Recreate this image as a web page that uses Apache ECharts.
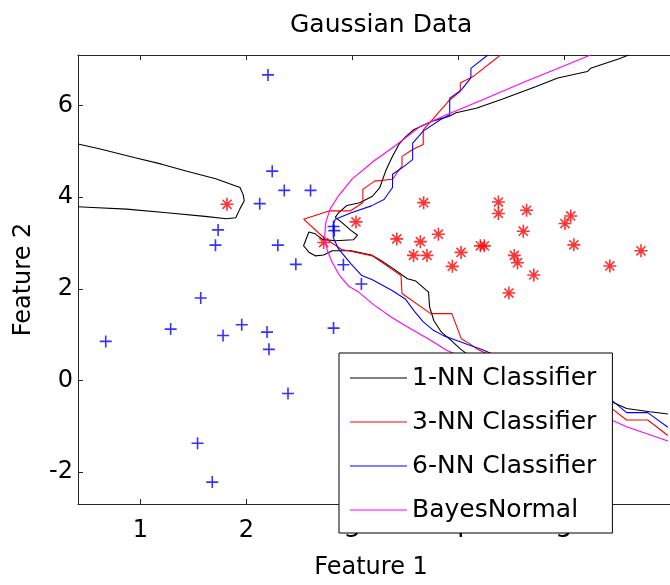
<!DOCTYPE html>
<html>
<head>
<meta charset="utf-8">
<script src="https://cdn.jsdelivr.net/npm/echarts@6/dist/echarts.min.js"></script>
<style>html,body{margin:0;padding:0;background:#fff;}#c{width:670px;height:585px;}</style>
</head>
<body>
<div id="c"></div>
<script>
// ---- data ----
var xTicks = [1, 2, 3, 4, 5];
var yTicks = [-2, 0, 2, 4, 6];
var seriesNames = ['1-NN Classifier', '3-NN Classifier', '6-NN Classifier', 'BayesNormal'];

var class1Points = [[2.204,6.667],[2.244,4.567],[2.358,4.148],[2.606,4.148],[2.126,3.859],[1.733,3.286],[1.708,2.953],[2.297,2.953],[2.467,2.534],[2.823,3.36],[2.83,3.27],[2.916,2.526],[3.086,2.106],[1.569,1.802],[0.672,0.854],[1.285,1.122],[1.780,0.984],[1.956,1.216],[2.195,1.057],[2.213,0.680],[2.823,1.144],[2.393,-0.282],[1.539,-1.368],[1.678,-2.215]];

var class2Points = [[1.817,3.844],[2.730,3.01],[3.035,3.46],[3.42,3.09],[3.643,3.03],[3.813,3.192],[3.578,2.73],[3.705,2.73],[4.027,2.795],[3.945,2.491],[4.21,2.938],[4.247,2.938],[3.674,3.88],[4.38,3.894],[4.38,3.645],[4.646,3.713],[4.615,3.258],[4.53,2.73],[4.56,2.57],[4.714,2.302],[4.479,1.908],[5.063,3.59],[5.008,3.424],[5.092,2.96],[5.432,2.5],[5.726,2.83]];

var nn1Left = [[0.41,5.16],[0.62,5.05],[0.95,4.86],[1.20,4.72],[1.43,4.57],[1.71,4.40],[1.94,4.21],[1.97,4.05],[1.98,3.92],[1.94,3.75],[1.90,3.55],[1.81,3.53],[1.61,3.58],[1.25,3.66],[0.87,3.74],[0.50,3.78],[0.41,3.79]];

var nn1Main = [[5.61,7.10],[5.52,7.02],[5.25,6.81],[5.22,6.74],[4.94,6.60],[4.73,6.41],[4.42,6.14],[4.17,5.94],[3.98,5.84],[3.91,5.76],[3.77,5.67],[3.66,5.56],[3.58,5.47],[3.50,5.31],[3.44,5.15],[3.38,4.89],[3.32,4.60],[3.26,4.21],[3.19,4.02],[3.07,3.88],[2.95,3.82],[2.87,3.66],[2.84,3.56],[2.90,3.45],[2.99,3.27],[3.05,3.17],[3.01,3.07],[2.84,3.05],[2.72,3.08],[2.65,3.20],[2.59,3.24],[2.54,2.94],[2.59,2.80],[2.65,2.72],[2.73,2.74],[2.81,2.83],[2.99,2.83],[3.18,2.74],[3.27,2.62],[3.40,2.42],[3.52,2.22],[3.60,2.17],[3.72,1.93],[3.73,1.60],[3.77,1.31],[3.84,1.06],[3.93,0.88],[4.02,0.69],[4.10,0.55],[5.20,-0.30],[5.38,-0.39],[5.59,-0.61],[5.81,-0.68],[5.98,-0.73]];

var nn3 = [[4.40,7.10],[4.14,6.63],[4.02,6.49],[4.02,6.31],[3.92,6.12],[3.74,5.65],[3.67,5.47],[3.67,5.15],[3.57,5.04],[3.47,4.89],[3.47,4.68],[3.38,4.39],[3.21,4.35],[3.10,4.17],[3.10,3.88],[2.98,3.70],[2.78,3.70],[2.54,3.52],[2.73,3.12],[2.90,2.86],[2.96,2.83],[3.19,2.72],[3.46,2.29],[3.47,1.90],[3.74,1.46],[3.94,1.46],[4.03,0.91],[4.11,0.80],[4.19,0.67],[4.40,0.45],[5.30,-0.50],[5.38,-0.55],[5.44,-0.59],[5.59,-0.86],[5.79,-0.86],[5.98,-1.20]];

var nn6 = [[4.28,7.10],[4.12,6.81],[4.12,6.60],[4.03,6.34],[3.92,6.16],[3.92,5.80],[3.83,5.69],[3.67,5.44],[3.57,5.18],[3.57,4.82],[3.47,4.64],[3.38,4.50],[3.38,4.21],[3.30,3.95],[3.18,3.81],[2.99,3.66],[2.84,3.52],[2.82,3.40],[2.82,3.12],[2.87,2.87],[2.99,2.54],[3.09,2.29],[3.19,2.20],[3.38,1.96],[3.50,1.78],[3.58,1.53],[3.67,1.28],[3.77,1.09],[3.86,0.98],[3.98,0.88],[4.11,0.77],[4.23,0.67],[4.40,0.50],[5.30,-0.33],[5.38,-0.38],[5.44,-0.41],[5.59,-0.70],[5.79,-0.70],[5.98,-1.02]];

var bayes = [[5.25,7.10],[4.91,6.78],[4.63,6.52],[4.32,6.21],[4.08,5.98],[3.89,5.80],[3.64,5.54],[3.40,5.11],[3.21,4.80],[3.00,4.40],[2.87,4.03],[2.79,3.74],[2.75,3.45],[2.74,3.16],[2.76,2.87],[2.81,2.58],[2.88,2.29],[2.97,2.05],[3.06,1.93],[3.21,1.64],[3.37,1.38],[3.55,1.13],[3.74,0.88],[3.89,0.66],[4.10,0.45],[5.20,-0.72],[5.38,-0.79],[5.59,-1.01],[5.98,-1.32]];

// ---- chart ----
var FONT = 'DejaVu Sans';
var AX = '#262626';
var chart = echarts.init(document.getElementById('c'), null, {renderer: 'canvas'});
var plusPath = 'path://M0,5L10,5M5,0L5,10';
var starPath = 'path://M0,5L10,5M5,0L5,10M1.5,1.5L8.5,8.5M1.5,8.5L8.5,1.5';

function lineSeries(name, data, color) {
  return {
    type: 'line', name: name, data: data, showSymbol: false, symbol: 'none',
    lineStyle: {color: color, width: 1.1}, itemStyle: {color: color},
    silent: true, z: 3, animation: false
  };
}

var option = {
  animation: false,
  backgroundColor: '#fff',
  title: {
    text: 'Gaussian Data', left: 285, top: 8,
    textStyle: {fontFamily: FONT, fontSize: 25, fontWeight: 'normal', color: '#000'}
  },
  grid: {left: 78, top: 55, bottom: 79, right: -10, containLabel: false},
  xAxis: [{
    type: 'value', min: 0.41, max: 6.0, position: 'bottom',
    name: 'Feature 1', nameLocation: 'middle', nameGap: 52,
    nameTextStyle: {fontFamily: FONT, fontSize: 24, color: '#000', padding: [0, 6, 0, 0]},
    axisLine: {show: true, onZero: false, lineStyle: {color: AX, width: 1}},
    axisTick: {show: true, inside: true, length: 5, customValues: xTicks, lineStyle: {color: AX}},
    axisLabel: {show: true, customValues: xTicks, margin: 15, fontFamily: FONT, fontSize: 24, color: '#000'},
    splitLine: {show: false}
  }, {
    type: 'value', min: 0.41, max: 6.0, position: 'top',
    axisLine: {show: true, onZero: false, lineStyle: {color: AX, width: 1}},
    axisTick: {show: true, inside: true, length: 5, customValues: xTicks, lineStyle: {color: AX}},
    axisLabel: {show: false},
    splitLine: {show: false}
  }],
  yAxis: [{
    type: 'value', min: -2.693, max: 7.101, position: 'left',
    name: 'Feature 2', nameLocation: 'middle', nameGap: 42, nameRotate: 90,
    nameTextStyle: {fontFamily: FONT, fontSize: 24, color: '#000'},
    axisLine: {show: true, onZero: false, lineStyle: {color: AX, width: 1}},
    axisTick: {show: true, inside: true, length: 5, customValues: yTicks, lineStyle: {color: AX}},
    axisLabel: {show: true, customValues: yTicks, margin: 5, fontFamily: FONT, fontSize: 24, color: '#000'},
    splitLine: {show: false}
  }],
  legend: {
    orient: 'vertical', left: 339, top: 353,
    padding: [12, 16, 10, 11],
    itemWidth: 57, itemHeight: 1, itemGap: 18, icon: 'rect',
    backgroundColor: '#fff', borderColor: '#000', borderWidth: 1, borderRadius: 0,
    textStyle: {fontFamily: FONT, fontSize: 25, color: '#000', lineHeight: 26},
    data: seriesNames, selectedMode: false, z: 10
  },
  series: [
    {type: 'scatter', data: class1Points, symbol: plusPath, symbolSize: 12, symbolKeepAspect: true,
     itemStyle: {color: 'none', borderColor: '#0000ff', borderWidth: 1.6}, silent: true, z: 2},
    {type: 'scatter', data: class2Points, symbol: starPath, symbolSize: 13, symbolKeepAspect: true,
     itemStyle: {color: 'none', borderColor: '#ff0000', borderWidth: 1.6}, silent: true, z: 2},
    lineSeries(seriesNames[0], nn1Left, '#000000'),
    lineSeries(seriesNames[0], nn1Main, '#000000'),
    lineSeries(seriesNames[1], nn3, '#ff0000'),
    lineSeries(seriesNames[2], nn6, '#0000ff'),
    lineSeries(seriesNames[3], bayes, '#ff00ff')
  ]
};
chart.setOption(option);
</script>
</body>
</html>
